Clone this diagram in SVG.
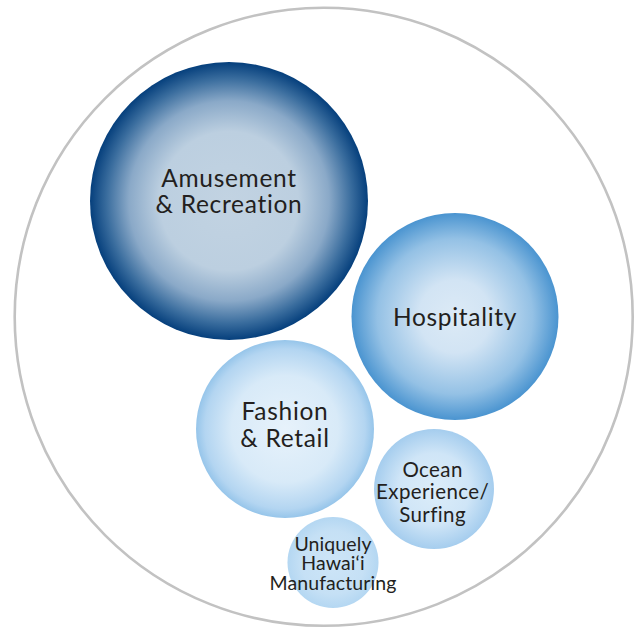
<svg xmlns="http://www.w3.org/2000/svg" width="637" height="630" viewBox="0 0 637 630">
<defs>
<radialGradient id="gA" cx="50%" cy="50%" r="50%">
<stop offset="0" stop-color="#c2d3e2"/>
<stop offset="0.5" stop-color="#bccfe0"/>
<stop offset="0.72" stop-color="#8aa9c8"/>
<stop offset="0.88" stop-color="#3a6d9e"/>
<stop offset="1" stop-color="#053f7c"/>
</radialGradient>
<radialGradient id="gH" cx="50%" cy="50%" r="50%">
<stop offset="0" stop-color="#dceaf6"/>
<stop offset="0.35" stop-color="#d2e4f4"/>
<stop offset="0.75" stop-color="#94c1e5"/>
<stop offset="1" stop-color="#4a94d0"/>
</radialGradient>
<radialGradient id="gF" cx="50%" cy="50%" r="50%">
<stop offset="0" stop-color="#e7f2fb"/>
<stop offset="0.6" stop-color="#d8eaf8"/>
<stop offset="0.9" stop-color="#b3d5f1"/>
<stop offset="1" stop-color="#96c5ea"/>
</radialGradient>
<radialGradient id="gO" cx="50%" cy="50%" r="50%">
<stop offset="0" stop-color="#dcedf9"/>
<stop offset="0.6" stop-color="#cfe5f7"/>
<stop offset="1" stop-color="#a5cdee"/>
</radialGradient>
<radialGradient id="gU" cx="50%" cy="50%" r="50%">
<stop offset="0" stop-color="#cde5f7"/>
<stop offset="0.7" stop-color="#c5e0f5"/>
<stop offset="1" stop-color="#b4d7f2"/>
</radialGradient>
<style>
text{font-family:Lato,"Open Sans","Liberation Sans",sans-serif;fill:#231f20;text-anchor:middle}
.l{font-size:24.5px;letter-spacing:0.7px}
.o{font-size:20.5px;letter-spacing:0.4px}
.u{font-size:19.5px;letter-spacing:0.1px}
</style>
</defs>
<circle id="outer" cx="323.7" cy="316.8" r="309" fill="#ffffff" stroke="#c2c2c2" stroke-width="2.6"/>
<g id="connectors"/>
<g id="amusement">
<circle cx="229" cy="201" r="139" fill="url(#gA)"/>
<text class="l" x="229" y="187">Amusement</text>
<text class="l" x="229" y="213">&amp; Recreation</text>
</g>
<g id="hospitality">
<circle cx="455" cy="316.5" r="103.5" fill="url(#gH)"/>
<text class="l" x="455" y="326">Hospitality</text>
</g>
<g id="fashion">
<circle cx="285" cy="429" r="89" fill="url(#gF)"/>
<text class="l" x="285" y="420">Fashion</text>
<text class="l" x="285" y="446.5">&amp; Retail</text>
</g>
<g id="ocean">
<circle cx="434" cy="489" r="60" fill="url(#gO)"/>
<text class="o" x="432.6" y="477">Ocean</text>
<text class="o" x="432.6" y="499.3">Experience/</text>
<text class="o" x="432.6" y="521.6">Surfing</text>
</g>
<g id="uniquely">
<circle cx="333" cy="562.5" r="45.5" fill="url(#gU)"/>
<text class="u" x="333" y="550.7">Uniquely</text>
<text class="u" x="333" y="569.8">Hawai‘i</text>
<text class="u" x="333" y="590">Manufacturing</text>
</g>
</svg>
